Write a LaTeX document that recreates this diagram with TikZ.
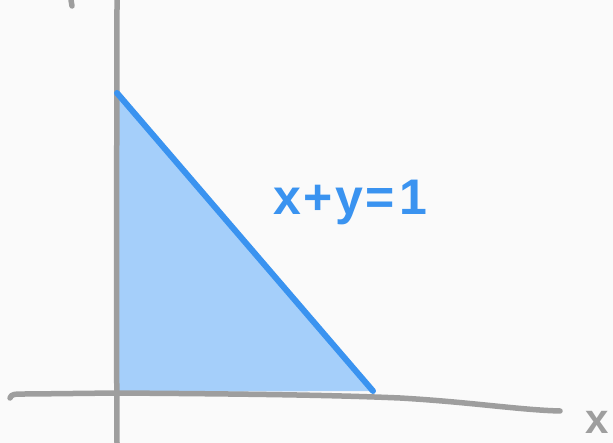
\documentclass[tikz,border=0pt]{standalone}
\usepackage{fontspec}
\setsansfont{Liberation Sans}
\usepackage{tikz}
\usetikzlibrary{positioning}
\definecolor{paper}{HTML}{FAFAFA}
\definecolor{axisgray}{HTML}{9E9E9E}
\definecolor{lineblue}{HTML}{3A93F0}
\definecolor{regionblue}{HTML}{A5CFFA}

\begin{document}
\begin{tikzpicture}[
  x=1pt, y=1pt,
  axis/.style={draw=axisgray, line width=5.5pt, line cap=round, line join=round},
  edge/.style={draw=lineblue, line width=6pt, line cap=round},
  region/.style={fill=regionblue},
  lab/.style={font=\sffamily\bfseries\fontsize{50}{50}\selectfont, inner sep=0pt},
  axlab/.style={font=\sffamily\bfseries\fontsize{42}{42}\selectfont, inner sep=0pt}
]
\useasboundingbox[fill=paper] (0,0) rectangle (613,443);
% shaded region under the line
\path[region] (117,350) -- (117,51) -- (373,52) -- cycle;
% axes
\draw[axis] (10,45) .. controls (12,49) .. (30,49) -- (117,50)
  .. controls (250,49) and (330,48) .. (400,45)
  .. controls (470,41) and (520,33) .. (560,32);
\draw[axis] (117,0) .. controls (116,200) and (117,300) .. (117,443);
\draw[axis] (71,443) -- (72,437);
\node[axlab, text=axisgray] (xlab) at (597,21) {x};
% boundary line
\coordinate (ytop) at (117,350);
\coordinate (xend) at (373,52);
\draw[edge] (ytop) -- (xend);
\node[lab, text=lineblue] (eq) at (350,241) {x\kern3pt+\kern2pt y\kern3pt=\kern4pt1};
\end{tikzpicture}
\end{document}
